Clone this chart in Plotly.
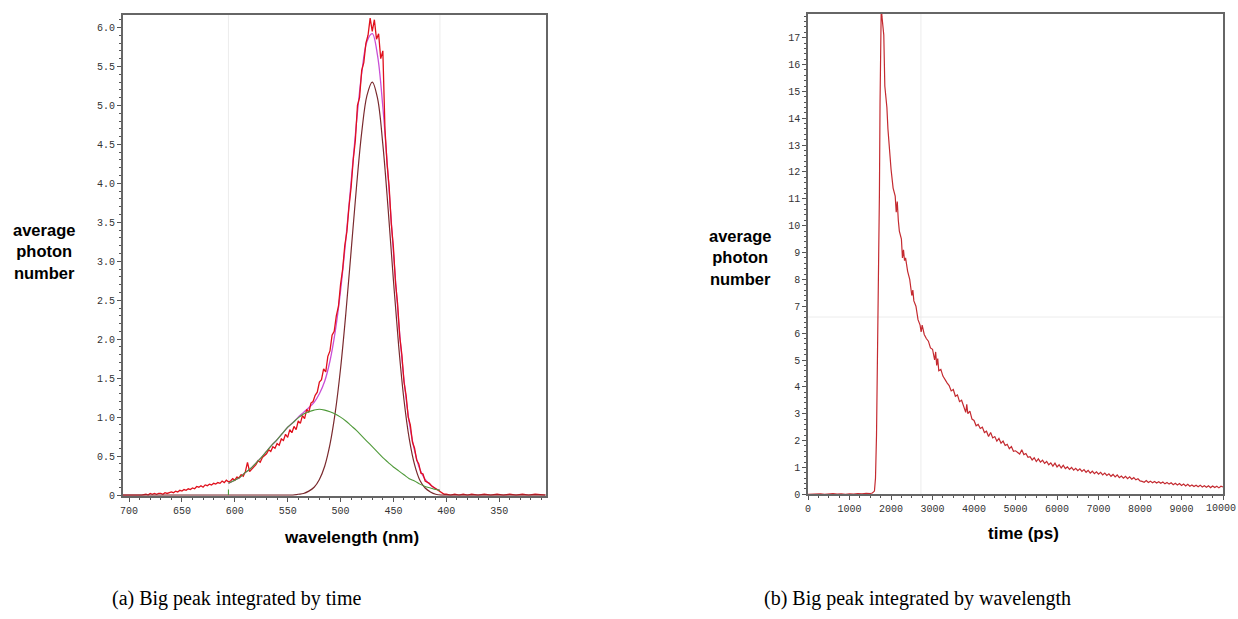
import plotly.graph_objects as go

# ---------------- (a) spectrum: data ----------------
wl_red = [706, 700, 694, 688, 684, 682,
          680, 678, 676, 674, 672, 670, 668, 666, 664, 662, 660, 658, 656, 654, 652, 650,
          648, 646, 644, 642, 640, 638, 636, 634, 632, 630, 628, 626, 624, 622, 620, 618,
          616, 614, 612, 610, 608, 606, 604, 602, 600, 598, 596, 594, 592, 590, 588, 586,
          584, 582, 580, 578, 576, 574, 572, 570, 568, 566, 564, 562, 560, 558, 556, 554,
          552, 550, 548, 546, 544, 542, 540, 538, 536, 534, 532, 530, 528, 526, 524, 522,
          520, 518, 516, 514, 512, 510, 508, 506, 504, 502, 500, 498, 496, 494, 492, 490,
          488, 486, 484, 482, 480, 478, 476, 474, 472, 470, 468, 466, 464, 462, 460, 458,
          456, 454, 452, 450, 448, 446, 444, 442, 440, 438, 436, 434, 432, 430, 428, 426,
          424, 422, 420, 418, 416, 414, 412, 410, 408, 406, 404, 402, 400,
          396, 392, 388, 384, 380, 376, 370, 364, 358, 352, 346, 340, 334, 328, 322, 316, 310, 306]
ph_red = [0.0, 0.0, 0.0, 0.0, 0.01, 0.0,
          0.02, 0.01, 0.02, 0.01, 0.02, 0.02, 0.01, 0.03, 0.02, 0.03, 0.04, 0.03, 0.05, 0.04, 0.06, 0.05,
          0.07, 0.06, 0.08, 0.07, 0.09, 0.08, 0.11, 0.10, 0.12, 0.10, 0.13, 0.12, 0.14, 0.13, 0.15, 0.14,
          0.16, 0.15, 0.18, 0.16, 0.19, 0.17, 0.18, 0.21, 0.19, 0.23, 0.22, 0.26, 0.24, 0.30, 0.42, 0.30,
          0.33, 0.36, 0.39, 0.44, 0.42, 0.48, 0.50, 0.53, 0.58, 0.56, 0.62, 0.60, 0.66, 0.64, 0.72, 0.70,
          0.78, 0.74, 0.84, 0.80, 0.88, 0.84, 0.95, 0.92, 1.02, 0.98, 1.10, 1.06, 1.18, 1.20, 1.28, 1.32,
          1.45, 1.48, 1.62, 1.58, 1.78, 1.85, 2.05, 2.10, 2.30, 2.42, 2.70, 2.90, 3.20, 3.38, 3.70, 3.95,
          4.30, 4.55, 5.00, 5.10, 5.45, 5.55, 5.80, 5.90, 6.12, 5.95, 6.10, 5.85, 5.92, 5.60, 5.70, 4.70,
          4.25, 3.95, 3.48, 3.18, 2.72, 2.45, 2.03, 1.80, 1.45, 1.28, 1.00, 0.90, 0.68, 0.60, 0.45, 0.40,
          0.28, 0.27, 0.18, 0.17, 0.15, 0.12, 0.10, 0.08, 0.07, 0.04, 0.02, 0.01, 0.01,
          0.0, 0.01, 0.0, 0.01, 0.0, 0.01, 0.0, 0.01, 0.0, 0.01, 0.0, 0.01, 0.0, 0.01, 0.0, 0.01, 0.0, 0.0]

wl_fit = [606, 600, 595, 590, 585, 580, 575, 570, 565, 560, 555, 550, 545, 540, 535, 530, 525, 520,
          515, 510, 505, 500, 495, 490, 485, 480, 475, 470, 465, 460, 455, 450, 445, 440, 435, 430,
          425, 420, 415, 410, 406]
ph_sum = [0.15, 0.19, 0.23, 0.29, 0.34, 0.41, 0.48, 0.56, 0.64, 0.71, 0.79, 0.87, 0.93, 1.00, 1.06, 1.12,
          1.19, 1.30, 1.46, 1.72, 2.10, 2.62, 3.28, 4.02, 4.77, 5.41, 5.82, 5.92, 5.64, 4.98, 4.09, 3.12,
          2.22, 1.48, 0.93, 0.57, 0.33, 0.20, 0.13, 0.08, 0.06]
ph_green = [0.15, 0.19, 0.23, 0.29, 0.34, 0.41, 0.48, 0.56, 0.64, 0.71, 0.79, 0.87, 0.93, 0.99, 1.04, 1.07,
            1.09, 1.10, 1.09, 1.07, 1.04, 1.00, 0.95, 0.89, 0.83, 0.76, 0.69, 0.62, 0.55, 0.48, 0.42, 0.36,
            0.31, 0.26, 0.21, 0.18, 0.14, 0.11, 0.09, 0.07, 0.06]
wl_stub = [606, 606]
ph_stub = [0.0, 0.07]

wl_brown = [706, 550, 545, 540, 535, 530, 525, 520, 515, 510, 505, 500, 495, 490, 485, 480, 475, 470,
            465, 460, 455, 450, 445, 440, 435, 430, 425, 420, 415, 410, 405, 400, 306]
ph_brown = [0.0, 0.0, 0.0, 0.01, 0.02, 0.05, 0.10, 0.20, 0.37, 0.65, 1.06, 1.62, 2.33, 3.13, 3.94, 4.65,
            5.13, 5.30, 5.09, 4.50, 3.67, 2.76, 1.91, 1.22, 0.72, 0.39, 0.19, 0.09, 0.04, 0.01, 0.0, 0.0, 0.0]

grid_wl = [606, 406]
a_yticks = [0, 0.5, 1.0, 1.5, 2.0, 2.5, 3.0, 3.5, 4.0, 4.5, 5.0, 5.5, 6.0]
a_ytext = ["0", "0.5", "1.0", "1.5", "2.0", "2.5", "3.0", "3.5", "4.0", "4.5", "5.0", "5.5", "6.0"]
a_xticks = [700, 650, 600, 550, 500, 450, 400, 350]

# ---------------- (b) decay: data ----------------
t_ps = [0, 100, 200, 300, 400, 500, 600, 700, 800, 900, 1000, 1100, 1200, 1300, 1400, 1500, 1550,
        1600, 1625, 1650, 1675, 1700, 1720, 1735, 1750, 1765, 1780, 1800, 1825, 1850, 1875, 1900,
        1925, 1950, 1975, 2000, 2050, 2100, 2125, 2150, 2175, 2200, 2250, 2275, 2300, 2325, 2350,
        2400, 2450, 2500, 2525, 2550, 2600, 2625, 2650, 2700, 2725, 2750, 2800, 2850, 2900, 2950,
        3000, 3050, 3075, 3100, 3125, 3150, 3200, 3250, 3300, 3350, 3400, 3450, 3500, 3550, 3600,
        3650, 3700, 3750, 3800, 3825, 3850, 3900, 3950, 4000, 4050, 4100, 4150, 4200, 4250, 4300,
        4350, 4400, 4450, 4500, 4550, 4600, 4650, 4700, 4750, 4800, 4850, 4900, 4950, 5000, 5050,
        5100, 5150, 5200, 5250, 5300, 5350, 5400, 5450, 5500, 5550, 5600, 5650, 5700, 5750, 5800,
        5850, 5900, 5950, 6000, 6050, 6100, 6150, 6200, 6250, 6300, 6350, 6400, 6450, 6500, 6550,
        6600, 6650, 6700, 6750, 6800, 6850, 6900, 6950, 7000, 7050, 7100, 7150, 7200, 7250, 7300,
        7350, 7400, 7450, 7500, 7550, 7600, 7650, 7700, 7750, 7800, 7850, 7900, 7950, 8000, 8050,
        8100, 8150, 8200, 8250, 8300, 8350, 8400, 8450, 8500, 8550, 8600, 8650, 8700, 8750, 8800,
        8850, 8900, 8950, 9000, 9050, 9100, 9150, 9200, 9250, 9300, 9350, 9400, 9450, 9500, 9550,
        9600, 9650, 9700, 9750, 9800, 9850, 9900, 9950, 10000]
ph_t = [0.0, 0.01, 0.0, 0.02, 0.0, 0.01, 0.03, 0.01, 0.02, 0.0, 0.02, 0.01, 0.03, 0.02, 0.04, 0.03, 0.05,
        0.12, 0.6, 2.2, 4.8, 7.8, 11.2, 14.6, 17.2, 18.3, 17.8, 17.4, 17.1, 15.2, 14.8, 14.4,
        13.6, 13.0, 12.4, 12.1, 11.4, 11.1, 10.5, 10.9, 10.2, 9.8, 9.5, 8.8, 9.1, 8.7, 8.8,
        8.3, 8.0, 7.4, 7.6, 7.2, 7.0, 6.7, 6.5, 6.3, 6.05, 6.3, 5.95, 5.8, 5.7, 5.45,
        5.4, 5.0, 5.3, 4.8, 5.05, 4.6, 4.65, 4.4, 4.25, 4.15, 4.05, 3.85, 3.9, 3.65, 3.7,
        3.45, 3.5, 3.3, 3.05, 3.35, 3.0, 3.1, 2.8, 2.75, 2.55, 2.6, 2.45, 2.5, 2.3, 2.35,
        2.15, 2.3, 2.1, 2.15, 1.98, 2.08, 1.9, 1.98, 1.82, 1.86, 1.7, 1.78, 1.6, 1.62, 1.55,
        1.5, 1.66, 1.48, 1.52, 1.38, 1.4, 1.28, 1.36, 1.22, 1.32, 1.2, 1.27, 1.15, 1.22, 1.1,
        1.17, 1.05, 1.16, 1.02, 1.1, 0.98, 1.08, 0.96, 1.02, 0.93, 1.0, 0.9, 0.97, 0.88, 0.95,
        0.85, 0.92, 0.82, 0.89, 0.79, 0.86, 0.77, 0.84, 0.75, 0.82, 0.72, 0.79, 0.7, 0.76, 0.67,
        0.74, 0.65, 0.72, 0.62, 0.68, 0.6, 0.67, 0.58, 0.65, 0.56, 0.62, 0.54, 0.58, 0.5, 0.48,
        0.45, 0.51, 0.44, 0.49, 0.43, 0.48, 0.42, 0.47, 0.41, 0.46, 0.39, 0.44, 0.38, 0.43, 0.36,
        0.41, 0.35, 0.4, 0.33, 0.38, 0.31, 0.37, 0.3, 0.35, 0.29, 0.34, 0.28, 0.34, 0.27, 0.32,
        0.26, 0.32, 0.25, 0.31, 0.25, 0.3, 0.24, 0.3, 0.27]
grid_t = [2720]
grid_ph = [6.6]
b_yticks = list(range(0, 18))
b_xticks = [0, 1000, 2000, 3000, 4000, 5000, 6000, 7000, 8000, 9000, 10000]

# ---------------- figure ----------------
W, H = 1238, 619
H_EFF = 611  # vertical pixel span used for placement
def px(x):
    return x / W
def py(y):
    return 1 - y / H_EFF

fig = go.Figure()
fig.add_trace(go.Scatter(x=wl_fit, y=ph_sum, mode="lines", line=dict(color="#c94fd6", width=1.3, shape="spline"),
                         xaxis="x", yaxis="y"))
fig.add_trace(go.Scatter(x=wl_red, y=ph_red, mode="lines", line=dict(color="#e0101c", width=1.3),
                         xaxis="x", yaxis="y"))
fig.add_trace(go.Scatter(x=wl_brown, y=ph_brown, mode="lines", line=dict(color="#7a2a2e", width=1.2, shape="spline"),
                         xaxis="x", yaxis="y"))
fig.add_trace(go.Scatter(x=wl_fit, y=ph_green, mode="lines", line=dict(color="#4f9a3a", width=1.1, shape="spline"),
                         xaxis="x", yaxis="y"))
fig.add_trace(go.Scatter(x=wl_stub, y=ph_stub, mode="lines", line=dict(color="#4f9a3a", width=1.1),
                         xaxis="x", yaxis="y"))
fig.add_trace(go.Scatter(x=t_ps, y=ph_t, mode="lines", line=dict(color="#c42a30", width=1.2),
                         xaxis="x2", yaxis="y2"))

tickfont = dict(family="Liberation Mono, DejaVu Sans Mono, monospace", size=10, color="#333")
axis_common = dict(showline=True, linecolor="#666", linewidth=1.5, mirror=True, ticks="outside",
                   ticklen=4, tickwidth=1, tickcolor="#555", tickfont=tickfont, showgrid=False,
                   zeroline=False, fixedrange=True)

b_xtext = [str(v) for v in b_xticks[:-1]] + [""]

fig.update_layout(
    width=W, height=H, margin=dict(l=0, r=0, t=0, b=0),
    paper_bgcolor="white", plot_bgcolor="white", showlegend=False,
    xaxis=dict(domain=[px(120), px(544)], range=[706, 306], anchor="y",
               tickvals=a_xticks, ticktext=[str(v) for v in a_xticks],
               minor=dict(dtick=10, ticks="outside", ticklen=2, tickcolor="#555"), **axis_common),
    yaxis=dict(domain=[py(495), py(15)], range=[-0.01, 6.16], anchor="x",
               tickvals=a_yticks, ticktext=a_ytext,
               minor=dict(dtick=0.1, ticks="outside", ticklen=2, tickcolor="#555"), **axis_common),
    xaxis2=dict(domain=[px(807), px(1223)], range=[0, 10000], anchor="y2",
                tickvals=b_xticks, ticktext=b_xtext,
                minor=dict(dtick=250, ticks="outside", ticklen=2, tickcolor="#555"), **axis_common),
    yaxis2=dict(domain=[py(493.5), py(14)], range=[0, 17.88], anchor="x2",
                tickvals=b_yticks, ticktext=[str(v) for v in b_yticks],
                minor=dict(dtick=0.2, ticks="outside", ticklen=2, tickcolor="#555"), **axis_common),
)

for g in grid_wl:
    fig.add_shape(type="line", xref="x", yref="paper", x0=g, x1=g, y0=py(495), y1=py(15),
                  line=dict(color="#ececec", width=1), layer="below")
for g in grid_t:
    fig.add_shape(type="line", xref="x2", yref="paper", x0=g, x1=g, y0=py(493.5), y1=py(14),
                  line=dict(color="#ececec", width=1), layer="below")
for g in grid_ph:
    fig.add_shape(type="line", xref="paper", yref="y2", x0=px(807), x1=px(1223), y0=g, y1=g,
                  line=dict(color="#ececec", width=1), layer="below")

title_font = dict(family="Liberation Sans, Arial, sans-serif", size=16.5, color="black")
xt_font = dict(family="Liberation Sans, Arial, sans-serif", size=17, color="black")
cap_font = dict(family="Liberation Serif, Times New Roman, serif", size=20, color="black")

annos = [
    dict(text="<b>average<br>photon<br>number</b>", x=px(41), y=py(251), font=title_font),
    dict(text="<b>average<br>photon<br>number</b>", x=px(739), y=py(257), font=title_font),
    dict(text="<b>wavelength (nm)</b>", x=px(349), y=py(537), font=xt_font),
    dict(text="<b>time (ps)</b>", x=px(1023), y=py(533), font=xt_font),
    dict(text="(a) Big peak integrated by time", x=px(234), y=py(598), font=cap_font),
    dict(text="(b) Big peak integrated by wavelength", x=px(917), y=py(598), font=cap_font),
    dict(text=str(b_xticks[-1]), x=px(1221), y=py(508), font=tickfont),
]
for a in annos:
    fig.add_annotation(xref="paper", yref="paper", xanchor="center", yanchor="middle",
                       showarrow=False, align="center", borderpad=0, **a)

fig.write_html("out.html", config={"displayModeBar": False},
               post_script="document.body.style.margin='0px';document.body.style.overflow='hidden';")
